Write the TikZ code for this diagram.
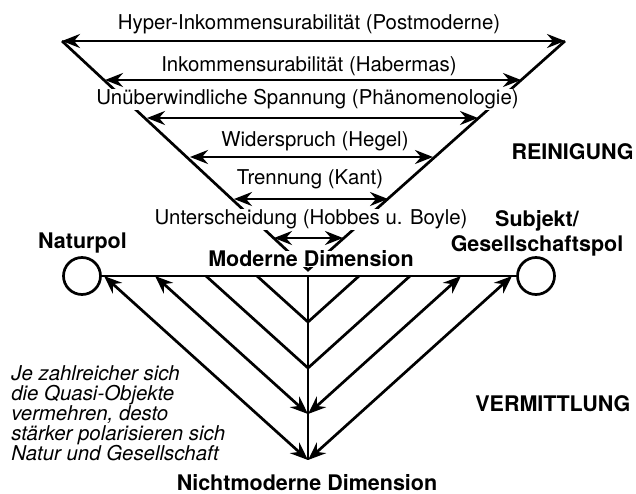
\documentclass[tikz,border=0pt]{standalone}
\usepackage{fontspec}
\setmainfont{TeX Gyre Heros}
\usepackage{tikz}
\usetikzlibrary{arrows.meta}

\begin{document}
\begin{tikzpicture}[x=1pt, y=-1pt, line width=2.7pt, font=\fontsize{20.4}{24}\selectfont]

\useasboundingbox (0,0) rectangle (636,494);

% Styles
\tikzset{
  pfeil/.style={{Stealth[length=18pt, width=14pt, inset=6pt]}-{Stealth[length=18pt, width=14pt, inset=6pt]}},
  lbl/.style={anchor=base, inner sep=1pt},
  lblW/.style={lbl, fill=white},
  lblB/.style={anchor=base, inner sep=0pt, font=\fontsize{21.5}{25}\selectfont\bfseries},
  pol/.style={draw, circle, minimum size=37pt, inner sep=0pt}
}

% Upper funnel (Reinigung)
\coordinate (tl) at (62,41);
\coordinate (tr) at (565,41);
\coordinate (spitze) at (308,270);
\draw (tl) -- (spitze) -- (tr);

% Double arrows between the two sides
\foreach \i/\y/\xl/\xr in {1/41/62/565, 2/80/105/521, 3/118/147/478, 4/157/190/433, 5/199/234/388, 6/238/274/343} {
    \coordinate (al\i) at (\xl,\y);
    \coordinate (ar\i) at (\xr,\y);
    \draw[pfeil] (al\i) -- (ar\i);
}

% Labels of the arrows
\foreach \i/\x/\y/\txt in {1/309/30/Hyper-Inkommensurabilität (Postmoderne), 2/309/71.7/Inkommensurabilität (Habermas), 4/315/146.7/Widerspruch (Hegel), 5/310/185/Trennung (Kant)} {
    \node[lbl] (ebene\i) at (\x,\y) {\txt};
}
\node[lblW] (ebene3) at (307.5,105) {Unüberwindliche Spannung (Phänomenologie)};
\node[lblW] (ebene6) at (311,225) {Unterscheidung (Hobbes u. Boyle)};

% Poles
\node[pol] (natur) at (82,276) {};
\node[pol] (subjekt) at (536,276) {};
\draw (natur) -- (subjekt);

% Lower part (Vermittlung)
\coordinate (mitte) at (308,276);
\coordinate (unten) at (308,460);
\draw (mitte) -- (unten);
\foreach \k in {1,...,4} {
    \coordinate (hl\k) at (308-51*\k,276);
    \coordinate (hr\k) at (308+51*\k,276);
    \coordinate (v\k) at (308,276+46*\k);
}
\foreach \k in {1,2} {
    \draw (hl\k) -- (v\k) -- (hr\k);
}
\foreach \k in {3,4} {
    \draw[pfeil] (hl\k) -- (v\k);
    \draw[pfeil] (hr\k) -- (v\k);
}

% -- Labels --
\node[lblB] (naturpol) at (82.5,248.3) {Naturpol};
\node[lblB, align=center] (gesellpol) at (537,251.7) {Subjekt/\\Gesellschaftspol};
\node[lblB, fill=white] (moderne) at (311,266.7) {Moderne Dimension};
\node[lblB] (nichtmoderne) at (307,490) {Nichtmoderne Dimension};
\node[lblB, anchor=base east] (reinigung) at (635,160) {REINIGUNG};
\node[lblB, anchor=base west] (vermittlung) at (474,411.7) {VERMITTLUNG};
\node[anchor=base west, align=left, inner sep=0pt, font=\fontsize{20.4}{20}\selectfont\itshape] (quasi) at (10,460) {
    Je zahlreicher sich\\
    die Quasi-Objekte\\
    vermehren, desto\\
    stärker polarisieren sich\\
    Natur und Gesellschaft
};

\end{tikzpicture}
\end{document}
